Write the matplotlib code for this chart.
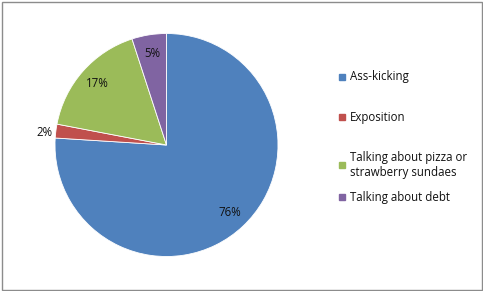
import numpy as np
import matplotlib.pyplot as plt
from matplotlib.patches import Rectangle

labels = ["Ass-kicking", "Exposition", "Talking about pizza or\nstrawberry sundaes", "Talking about debt"]
shares = [76, 2, 17, 5]
colors = ["#4F81BD", "#C0504D", "#9BBB59", "#8064A2"]

plt.rcParams['font.family'] = ['Open Sans', 'DejaVu Sans']

W, H = 483, 291
fig = plt.figure(figsize=(W / 100, H / 100), dpi=100)

# pie centre (166, 145) px, radius 111 px
cx, cy, r = 166.5, 145, 111.5
ax = fig.add_axes([(cx - r) / W, (H - cy - r) / H, 2 * r / W, 2 * r / H])
wedges, texts, autotexts = ax.pie(shares, colors=colors, startangle=90, counterclock=False,
                                  autopct='%d%%', pctdistance=0.83,
                                  wedgeprops=dict(edgecolor='white', linewidth=0.6),
                                  textprops=dict(fontsize=8.3, color='#111111'))
ax.set_xlim(-1, 1)
ax.set_ylim(-1, 1)

# small slice gets its label outside
for w, t, s in zip(wedges, autotexts, shares):
    if s < 3:
        ang = np.deg2rad((w.theta1 + w.theta2) / 2)
        t.set_position((1.03 * np.cos(ang), 1.03 * np.sin(ang) - 0.02))
        t.set_ha('right')

# legend, Excel-style
legend_y = [77, 117, 165, 197]
for lab, col, y in zip(labels, colors, legend_y):
    fig.patches.append(Rectangle((339 / W, (H - y - 3) / H), 6 / W, 6 / H,
                                 transform=fig.transFigure, color=col))
    fig.text(350 / W, (H - y) / H, lab, fontsize=8.3, va='center', ha='left',
             color='#111111', linespacing=1.2)

fig.patches.append(Rectangle((1.5 / W, 1.5 / H), (W - 3) / W, (H - 3) / H,
                             transform=fig.transFigure, fill=False,
                             edgecolor='#8c8c8c', linewidth=1))

fig.savefig('out.png', dpi=100)
